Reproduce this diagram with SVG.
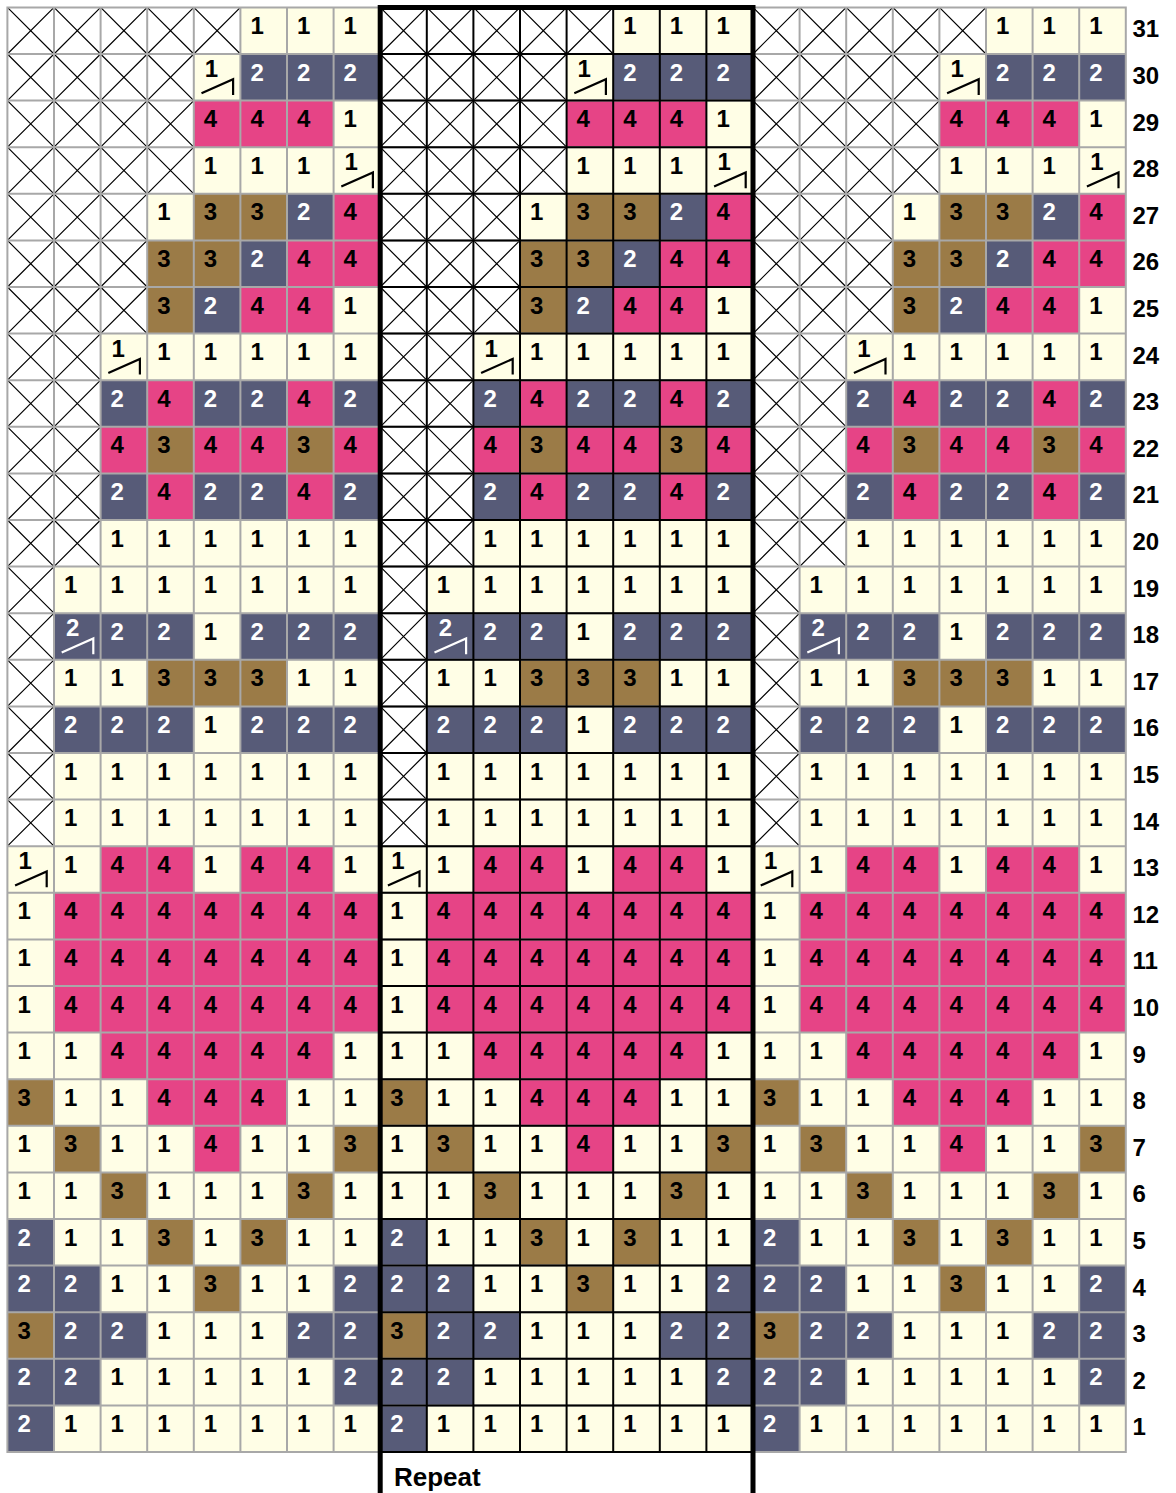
<svg xmlns="http://www.w3.org/2000/svg" width="1176" height="1493" viewBox="0 0 1176 1493">
<style>
.lbl{font-family:"Liberation Sans",Arial,sans-serif;font-weight:bold;font-size:24px;fill:#000}
.d{font-family:"Liberation Sans",Arial,sans-serif;font-weight:bold;font-size:24px;fill:#000}
.w{fill:#FFFFFF}
</style>
<defs>
<rect id="c1" fill="#FFFEE6" width="46.6" height="46.6"/>
<rect id="c2" fill="#575B78" width="46.6" height="46.6"/>
<rect id="c3" fill="#9B7B47" width="46.6" height="46.6"/>
<rect id="c4" fill="#E64486" width="46.6" height="46.6"/>
<g id="cx"><rect fill="#FFFFFF" width="46.6" height="46.6"/><path fill="none" stroke="#000" stroke-width="1.2" d="M0 0L46.6 46.6M46.6 0L0 46.6"/></g>
<g id="ca"><rect fill="#FFFEE6" width="46.6" height="46.6"/><path fill="none" stroke="#000" stroke-width="2.2" d="M7.7 39.3L39.3 25.3V41"/></g>
<g id="cb"><rect fill="#575B78" width="46.6" height="46.6"/><path fill="none" stroke="#FFFFFF" stroke-width="2.2" d="M7.7 39.3L39.3 25.3V41"/></g>
<g id="block">
<g transform="translate(0,0)"><use href="#cx"/><use href="#cx" x="46.6"/><use href="#cx" x="93.2"/><use href="#cx" x="139.8"/><use href="#cx" x="186.4"/><use href="#c1" x="233"/><use href="#c1" x="279.6"/><use href="#c1" x="326.2"/></g>
<g transform="translate(0,46.6)"><use href="#cx"/><use href="#cx" x="46.6"/><use href="#cx" x="93.2"/><use href="#cx" x="139.8"/><use href="#ca" x="186.4"/><use href="#c2" x="233"/><use href="#c2" x="279.6"/><use href="#c2" x="326.2"/></g>
<g transform="translate(0,93.2)"><use href="#cx"/><use href="#cx" x="46.6"/><use href="#cx" x="93.2"/><use href="#cx" x="139.8"/><use href="#c4" x="186.4"/><use href="#c4" x="233"/><use href="#c4" x="279.6"/><use href="#c1" x="326.2"/></g>
<g transform="translate(0,139.8)"><use href="#cx"/><use href="#cx" x="46.6"/><use href="#cx" x="93.2"/><use href="#cx" x="139.8"/><use href="#c1" x="186.4"/><use href="#c1" x="233"/><use href="#c1" x="279.6"/><use href="#ca" x="326.2"/></g>
<g transform="translate(0,186.4)"><use href="#cx"/><use href="#cx" x="46.6"/><use href="#cx" x="93.2"/><use href="#c1" x="139.8"/><use href="#c3" x="186.4"/><use href="#c3" x="233"/><use href="#c2" x="279.6"/><use href="#c4" x="326.2"/></g>
<g transform="translate(0,233)"><use href="#cx"/><use href="#cx" x="46.6"/><use href="#cx" x="93.2"/><use href="#c3" x="139.8"/><use href="#c3" x="186.4"/><use href="#c2" x="233"/><use href="#c4" x="279.6"/><use href="#c4" x="326.2"/></g>
<g transform="translate(0,279.6)"><use href="#cx"/><use href="#cx" x="46.6"/><use href="#cx" x="93.2"/><use href="#c3" x="139.8"/><use href="#c2" x="186.4"/><use href="#c4" x="233"/><use href="#c4" x="279.6"/><use href="#c1" x="326.2"/></g>
<g transform="translate(0,326.2)"><use href="#cx"/><use href="#cx" x="46.6"/><use href="#ca" x="93.2"/><use href="#c1" x="139.8"/><use href="#c1" x="186.4"/><use href="#c1" x="233"/><use href="#c1" x="279.6"/><use href="#c1" x="326.2"/></g>
<g transform="translate(0,372.8)"><use href="#cx"/><use href="#cx" x="46.6"/><use href="#c2" x="93.2"/><use href="#c4" x="139.8"/><use href="#c2" x="186.4"/><use href="#c2" x="233"/><use href="#c4" x="279.6"/><use href="#c2" x="326.2"/></g>
<g transform="translate(0,419.4)"><use href="#cx"/><use href="#cx" x="46.6"/><use href="#c4" x="93.2"/><use href="#c3" x="139.8"/><use href="#c4" x="186.4"/><use href="#c4" x="233"/><use href="#c3" x="279.6"/><use href="#c4" x="326.2"/></g>
<g transform="translate(0,466)"><use href="#cx"/><use href="#cx" x="46.6"/><use href="#c2" x="93.2"/><use href="#c4" x="139.8"/><use href="#c2" x="186.4"/><use href="#c2" x="233"/><use href="#c4" x="279.6"/><use href="#c2" x="326.2"/></g>
<g transform="translate(0,512.6)"><use href="#cx"/><use href="#cx" x="46.6"/><use href="#c1" x="93.2"/><use href="#c1" x="139.8"/><use href="#c1" x="186.4"/><use href="#c1" x="233"/><use href="#c1" x="279.6"/><use href="#c1" x="326.2"/></g>
<g transform="translate(0,559.2)"><use href="#cx"/><use href="#c1" x="46.6"/><use href="#c1" x="93.2"/><use href="#c1" x="139.8"/><use href="#c1" x="186.4"/><use href="#c1" x="233"/><use href="#c1" x="279.6"/><use href="#c1" x="326.2"/></g>
<g transform="translate(0,605.8)"><use href="#cx"/><use href="#cb" x="46.6"/><use href="#c2" x="93.2"/><use href="#c2" x="139.8"/><use href="#c1" x="186.4"/><use href="#c2" x="233"/><use href="#c2" x="279.6"/><use href="#c2" x="326.2"/></g>
<g transform="translate(0,652.4)"><use href="#cx"/><use href="#c1" x="46.6"/><use href="#c1" x="93.2"/><use href="#c3" x="139.8"/><use href="#c3" x="186.4"/><use href="#c3" x="233"/><use href="#c1" x="279.6"/><use href="#c1" x="326.2"/></g>
<g transform="translate(0,699)"><use href="#cx"/><use href="#c2" x="46.6"/><use href="#c2" x="93.2"/><use href="#c2" x="139.8"/><use href="#c1" x="186.4"/><use href="#c2" x="233"/><use href="#c2" x="279.6"/><use href="#c2" x="326.2"/></g>
<g transform="translate(0,745.6)"><use href="#cx"/><use href="#c1" x="46.6"/><use href="#c1" x="93.2"/><use href="#c1" x="139.8"/><use href="#c1" x="186.4"/><use href="#c1" x="233"/><use href="#c1" x="279.6"/><use href="#c1" x="326.2"/></g>
<g transform="translate(0,792.2)"><use href="#cx"/><use href="#c1" x="46.6"/><use href="#c1" x="93.2"/><use href="#c1" x="139.8"/><use href="#c1" x="186.4"/><use href="#c1" x="233"/><use href="#c1" x="279.6"/><use href="#c1" x="326.2"/></g>
<g transform="translate(0,838.8)"><use href="#ca"/><use href="#c1" x="46.6"/><use href="#c4" x="93.2"/><use href="#c4" x="139.8"/><use href="#c1" x="186.4"/><use href="#c4" x="233"/><use href="#c4" x="279.6"/><use href="#c1" x="326.2"/></g>
<g transform="translate(0,885.4)"><use href="#c1"/><use href="#c4" x="46.6"/><use href="#c4" x="93.2"/><use href="#c4" x="139.8"/><use href="#c4" x="186.4"/><use href="#c4" x="233"/><use href="#c4" x="279.6"/><use href="#c4" x="326.2"/></g>
<g transform="translate(0,932)"><use href="#c1"/><use href="#c4" x="46.6"/><use href="#c4" x="93.2"/><use href="#c4" x="139.8"/><use href="#c4" x="186.4"/><use href="#c4" x="233"/><use href="#c4" x="279.6"/><use href="#c4" x="326.2"/></g>
<g transform="translate(0,978.6)"><use href="#c1"/><use href="#c4" x="46.6"/><use href="#c4" x="93.2"/><use href="#c4" x="139.8"/><use href="#c4" x="186.4"/><use href="#c4" x="233"/><use href="#c4" x="279.6"/><use href="#c4" x="326.2"/></g>
<g transform="translate(0,1025.2)"><use href="#c1"/><use href="#c1" x="46.6"/><use href="#c4" x="93.2"/><use href="#c4" x="139.8"/><use href="#c4" x="186.4"/><use href="#c4" x="233"/><use href="#c4" x="279.6"/><use href="#c1" x="326.2"/></g>
<g transform="translate(0,1071.8)"><use href="#c3"/><use href="#c1" x="46.6"/><use href="#c1" x="93.2"/><use href="#c4" x="139.8"/><use href="#c4" x="186.4"/><use href="#c4" x="233"/><use href="#c1" x="279.6"/><use href="#c1" x="326.2"/></g>
<g transform="translate(0,1118.4)"><use href="#c1"/><use href="#c3" x="46.6"/><use href="#c1" x="93.2"/><use href="#c1" x="139.8"/><use href="#c4" x="186.4"/><use href="#c1" x="233"/><use href="#c1" x="279.6"/><use href="#c3" x="326.2"/></g>
<g transform="translate(0,1165)"><use href="#c1"/><use href="#c1" x="46.6"/><use href="#c3" x="93.2"/><use href="#c1" x="139.8"/><use href="#c1" x="186.4"/><use href="#c1" x="233"/><use href="#c3" x="279.6"/><use href="#c1" x="326.2"/></g>
<g transform="translate(0,1211.6)"><use href="#c2"/><use href="#c1" x="46.6"/><use href="#c1" x="93.2"/><use href="#c3" x="139.8"/><use href="#c1" x="186.4"/><use href="#c3" x="233"/><use href="#c1" x="279.6"/><use href="#c1" x="326.2"/></g>
<g transform="translate(0,1258.2)"><use href="#c2"/><use href="#c2" x="46.6"/><use href="#c1" x="93.2"/><use href="#c1" x="139.8"/><use href="#c3" x="186.4"/><use href="#c1" x="233"/><use href="#c1" x="279.6"/><use href="#c2" x="326.2"/></g>
<g transform="translate(0,1304.8)"><use href="#c3"/><use href="#c2" x="46.6"/><use href="#c2" x="93.2"/><use href="#c1" x="139.8"/><use href="#c1" x="186.4"/><use href="#c1" x="233"/><use href="#c2" x="279.6"/><use href="#c2" x="326.2"/></g>
<g transform="translate(0,1351.4)"><use href="#c2"/><use href="#c2" x="46.6"/><use href="#c1" x="93.2"/><use href="#c1" x="139.8"/><use href="#c1" x="186.4"/><use href="#c1" x="233"/><use href="#c1" x="279.6"/><use href="#c2" x="326.2"/></g>
<g transform="translate(0,1398)"><use href="#c2"/><use href="#c1" x="46.6"/><use href="#c1" x="93.2"/><use href="#c1" x="139.8"/><use href="#c1" x="186.4"/><use href="#c1" x="233"/><use href="#c1" x="279.6"/><use href="#c1" x="326.2"/></g>
</g>
</defs>
<g id="chart">
<use id="left-block" href="#block" x="7.4" y="7.4"/>
<use id="repeat-block" href="#block" x="380.2" y="7.4"/>
<use id="right-block" href="#block" x="753" y="7.4"/>
</g>
<g id="cell-numbers">
<text class="d" y="33.9" x="250.4 297 343.6 623.2 669.8 716.4 996 1042.6 1089.2">111111111</text>
<text class="d" x="204.8 250.4 297 343.6 577.6 623.2 669.8 716.4 950.4 996 1042.6 1089.2" y="77 80.5 80.5 80.5 77 80.5 80.5 80.5 77 80.5 80.5 80.5">1<tspan class="w">222</tspan>1<tspan class="w">222</tspan>1<tspan class="w">222</tspan></text>
<text class="d" y="127.1" x="203.8 250.4 297 343.6 576.6 623.2 669.8 716.4 949.4 996 1042.6 1089.2">444144414441</text>
<text class="d" x="203.8 250.4 297 344.6 576.6 623.2 669.8 717.4 949.4 996 1042.6 1090.2" y="173.7 173.7 173.7 170.2 173.7 173.7 173.7 170.2 173.7 173.7 173.7 170.2">111111111111</text>
<text class="d" y="220.3" x="157.2 203.8 250.4 297 343.6 530 576.6 623.2 669.8 716.4 902.8 949.4 996 1042.6 1089.2">133<tspan class="w">2</tspan>4133<tspan class="w">2</tspan>4133<tspan class="w">2</tspan>4</text>
<text class="d" y="266.9" x="157.2 203.8 250.4 297 343.6 530 576.6 623.2 669.8 716.4 902.8 949.4 996 1042.6 1089.2">33<tspan class="w">2</tspan>4433<tspan class="w">2</tspan>4433<tspan class="w">2</tspan>44</text>
<text class="d" y="313.5" x="157.2 203.8 250.4 297 343.6 530 576.6 623.2 669.8 716.4 902.8 949.4 996 1042.6 1089.2">3<tspan class="w">2</tspan>4413<tspan class="w">2</tspan>4413<tspan class="w">2</tspan>441</text>
<text class="d" x="111.6 157.2 203.8 250.4 297 343.6 484.4 530 576.6 623.2 669.8 716.4 857.2 902.8 949.4 996 1042.6 1089.2" y="356.6 360.1 360.1 360.1 360.1 360.1 356.6 360.1 360.1 360.1 360.1 360.1 356.6 360.1 360.1 360.1 360.1 360.1">111111111111111111</text>
<text class="d" y="406.7" x="110.6 157.2 203.8 250.4 297 343.6 483.4 530 576.6 623.2 669.8 716.4 856.2 902.8 949.4 996 1042.6 1089.2"><tspan class="w">2</tspan>4<tspan class="w">22</tspan>4<tspan class="w">22</tspan>4<tspan class="w">22</tspan>4<tspan class="w">22</tspan>4<tspan class="w">22</tspan>4<tspan class="w">2</tspan></text>
<text class="d" y="453.3" x="110.6 157.2 203.8 250.4 297 343.6 483.4 530 576.6 623.2 669.8 716.4 856.2 902.8 949.4 996 1042.6 1089.2">434434434434434434</text>
<text class="d" y="499.9" x="110.6 157.2 203.8 250.4 297 343.6 483.4 530 576.6 623.2 669.8 716.4 856.2 902.8 949.4 996 1042.6 1089.2"><tspan class="w">2</tspan>4<tspan class="w">22</tspan>4<tspan class="w">22</tspan>4<tspan class="w">22</tspan>4<tspan class="w">22</tspan>4<tspan class="w">22</tspan>4<tspan class="w">2</tspan></text>
<text class="d" y="546.5" x="110.6 157.2 203.8 250.4 297 343.6 483.4 530 576.6 623.2 669.8 716.4 856.2 902.8 949.4 996 1042.6 1089.2">111111111111111111</text>
<text class="d" y="593.1" x="64 110.6 157.2 203.8 250.4 297 343.6 436.8 483.4 530 576.6 623.2 669.8 716.4 809.6 856.2 902.8 949.4 996 1042.6 1089.2">111111111111111111111</text>
<text class="d" x="66 110.6 157.2 203.8 250.4 297 343.6 438.8 483.4 530 576.6 623.2 669.8 716.4 811.6 856.2 902.8 949.4 996 1042.6 1089.2" y="636.2 639.7 639.7 639.7 639.7 639.7 639.7 636.2 639.7 639.7 639.7 639.7 639.7 639.7 636.2 639.7 639.7 639.7 639.7 639.7 639.7"><tspan class="w">222</tspan>1<tspan class="w">222222</tspan>1<tspan class="w">222222</tspan>1<tspan class="w">222</tspan></text>
<text class="d" y="686.3" x="64 110.6 157.2 203.8 250.4 297 343.6 436.8 483.4 530 576.6 623.2 669.8 716.4 809.6 856.2 902.8 949.4 996 1042.6 1089.2">113331111333111133311</text>
<text class="d" y="732.9" x="64 110.6 157.2 203.8 250.4 297 343.6 436.8 483.4 530 576.6 623.2 669.8 716.4 809.6 856.2 902.8 949.4 996 1042.6 1089.2"><tspan class="w">222</tspan>1<tspan class="w">222222</tspan>1<tspan class="w">222222</tspan>1<tspan class="w">222</tspan></text>
<text class="d" y="779.5" x="64 110.6 157.2 203.8 250.4 297 343.6 436.8 483.4 530 576.6 623.2 669.8 716.4 809.6 856.2 902.8 949.4 996 1042.6 1089.2">111111111111111111111</text>
<text class="d" y="826.1" x="64 110.6 157.2 203.8 250.4 297 343.6 436.8 483.4 530 576.6 623.2 669.8 716.4 809.6 856.2 902.8 949.4 996 1042.6 1089.2">111111111111111111111</text>
<text class="d" x="18.4 64 110.6 157.2 203.8 250.4 297 343.6 391.2 436.8 483.4 530 576.6 623.2 669.8 716.4 764 809.6 856.2 902.8 949.4 996 1042.6 1089.2" y="869.2 872.7 872.7 872.7 872.7 872.7 872.7 872.7 869.2 872.7 872.7 872.7 872.7 872.7 872.7 872.7 869.2 872.7 872.7 872.7 872.7 872.7 872.7 872.7">114414411144144111441441</text>
<text class="d" y="919.3" x="17.4 64 110.6 157.2 203.8 250.4 297 343.6 390.2 436.8 483.4 530 576.6 623.2 669.8 716.4 763 809.6 856.2 902.8 949.4 996 1042.6 1089.2">144444441444444414444444</text>
<text class="d" y="965.9" x="17.4 64 110.6 157.2 203.8 250.4 297 343.6 390.2 436.8 483.4 530 576.6 623.2 669.8 716.4 763 809.6 856.2 902.8 949.4 996 1042.6 1089.2">144444441444444414444444</text>
<text class="d" y="1012.5" x="17.4 64 110.6 157.2 203.8 250.4 297 343.6 390.2 436.8 483.4 530 576.6 623.2 669.8 716.4 763 809.6 856.2 902.8 949.4 996 1042.6 1089.2">144444441444444414444444</text>
<text class="d" y="1059.1" x="17.4 64 110.6 157.2 203.8 250.4 297 343.6 390.2 436.8 483.4 530 576.6 623.2 669.8 716.4 763 809.6 856.2 902.8 949.4 996 1042.6 1089.2">114444411144444111444441</text>
<text class="d" y="1105.7" x="17.4 64 110.6 157.2 203.8 250.4 297 343.6 390.2 436.8 483.4 530 576.6 623.2 669.8 716.4 763 809.6 856.2 902.8 949.4 996 1042.6 1089.2">311444113114441131144411</text>
<text class="d" y="1152.3" x="17.4 64 110.6 157.2 203.8 250.4 297 343.6 390.2 436.8 483.4 530 576.6 623.2 669.8 716.4 763 809.6 856.2 902.8 949.4 996 1042.6 1089.2">131141131311411313114113</text>
<text class="d" y="1198.9" x="17.4 64 110.6 157.2 203.8 250.4 297 343.6 390.2 436.8 483.4 530 576.6 623.2 669.8 716.4 763 809.6 856.2 902.8 949.4 996 1042.6 1089.2">113111311131113111311131</text>
<text class="d" y="1245.5" x="17.4 64 110.6 157.2 203.8 250.4 297 343.6 390.2 436.8 483.4 530 576.6 623.2 669.8 716.4 763 809.6 856.2 902.8 949.4 996 1042.6 1089.2"><tspan class="w">2</tspan>1131311<tspan class="w">2</tspan>1131311<tspan class="w">2</tspan>1131311</text>
<text class="d" y="1292.1" x="17.4 64 110.6 157.2 203.8 250.4 297 343.6 390.2 436.8 483.4 530 576.6 623.2 669.8 716.4 763 809.6 856.2 902.8 949.4 996 1042.6 1089.2"><tspan class="w">22</tspan>11311<tspan class="w">222</tspan>11311<tspan class="w">222</tspan>11311<tspan class="w">2</tspan></text>
<text class="d" y="1338.7" x="17.4 64 110.6 157.2 203.8 250.4 297 343.6 390.2 436.8 483.4 530 576.6 623.2 669.8 716.4 763 809.6 856.2 902.8 949.4 996 1042.6 1089.2">3<tspan class="w">22</tspan>111<tspan class="w">22</tspan>3<tspan class="w">22</tspan>111<tspan class="w">22</tspan>3<tspan class="w">22</tspan>111<tspan class="w">22</tspan></text>
<text class="d" y="1385.3" x="17.4 64 110.6 157.2 203.8 250.4 297 343.6 390.2 436.8 483.4 530 576.6 623.2 669.8 716.4 763 809.6 856.2 902.8 949.4 996 1042.6 1089.2"><tspan class="w">22</tspan>11111<tspan class="w">222</tspan>11111<tspan class="w">222</tspan>11111<tspan class="w">2</tspan></text>
<text class="d" y="1431.9" x="17.4 64 110.6 157.2 203.8 250.4 297 343.6 390.2 436.8 483.4 530 576.6 623.2 669.8 716.4 763 809.6 856.2 902.8 949.4 996 1042.6 1089.2"><tspan class="w">2</tspan>1111111<tspan class="w">2</tspan>1111111<tspan class="w">2</tspan>1111111</text>
</g>
<g id="grid" fill="none" stroke-linecap="square">
<path stroke="#A8A8A8" stroke-width="2" d="M7.4 7.4V1452M54 7.4V1452M100.6 7.4V1452M147.2 7.4V1452M193.8 7.4V1452M240.4 7.4V1452M287 7.4V1452M333.6 7.4V1452M799.6 7.4V1452M846.2 7.4V1452M892.8 7.4V1452M939.4 7.4V1452M986 7.4V1452M1032.6 7.4V1452M1079.2 7.4V1452M1125.8 7.4V1452M7.4 7.4H1125.8M7.4 54H1125.8M7.4 100.6H1125.8M7.4 147.2H1125.8M7.4 193.8H1125.8M7.4 240.4H1125.8M7.4 287H1125.8M7.4 333.6H1125.8M7.4 380.2H1125.8M7.4 426.8H1125.8M7.4 473.4H1125.8M7.4 520H1125.8M7.4 566.6H1125.8M7.4 613.2H1125.8M7.4 659.8H1125.8M7.4 706.4H1125.8M7.4 753H1125.8M7.4 799.6H1125.8M7.4 846.2H1125.8M7.4 892.8H1125.8M7.4 939.4H1125.8M7.4 986H1125.8M7.4 1032.6H1125.8M7.4 1079.2H1125.8M7.4 1125.8H1125.8M7.4 1172.4H1125.8M7.4 1219H1125.8M7.4 1265.6H1125.8M7.4 1312.2H1125.8M7.4 1358.8H1125.8M7.4 1405.4H1125.8M7.4 1452H1125.8"/>
<path stroke="#000" stroke-width="2" d="M426.8 7.4V1452M473.4 7.4V1452M520 7.4V1452M566.6 7.4V1452M613.2 7.4V1452M659.8 7.4V1452M706.4 7.4V1452M380.2 54H753M380.2 100.6H753M380.2 147.2H753M380.2 193.8H753M380.2 240.4H753M380.2 287H753M380.2 333.6H753M380.2 380.2H753M380.2 426.8H753M380.2 473.4H753M380.2 520H753M380.2 566.6H753M380.2 613.2H753M380.2 659.8H753M380.2 706.4H753M380.2 753H753M380.2 799.6H753M380.2 846.2H753M380.2 892.8H753M380.2 939.4H753M380.2 986H753M380.2 1032.6H753M380.2 1079.2H753M380.2 1125.8H753M380.2 1172.4H753M380.2 1219H753M380.2 1265.6H753M380.2 1312.2H753M380.2 1358.8H753M380.2 1405.4H753M380.2 1452H753"/>
</g>
<g id="repeat">
<path d="M380.2 1493V7.4H753V1493" fill="none" stroke="#000" stroke-width="5" stroke-linecap="butt" stroke-linejoin="miter"/>
<text class="lbl" x="394" y="1486" style="font-size:26px">Repeat</text>
</g>
<g id="row-labels">
<text class="lbl" x="1132.5" y="37.4">31</text>
<text class="lbl" x="1132.5" y="84">30</text>
<text class="lbl" x="1132.5" y="130.6">29</text>
<text class="lbl" x="1132.5" y="177.2">28</text>
<text class="lbl" x="1132.5" y="223.8">27</text>
<text class="lbl" x="1132.5" y="270.4">26</text>
<text class="lbl" x="1132.5" y="317">25</text>
<text class="lbl" x="1132.5" y="363.6">24</text>
<text class="lbl" x="1132.5" y="410.2">23</text>
<text class="lbl" x="1132.5" y="456.8">22</text>
<text class="lbl" x="1132.5" y="503.4">21</text>
<text class="lbl" x="1132.5" y="550">20</text>
<text class="lbl" x="1132.5" y="596.6">19</text>
<text class="lbl" x="1132.5" y="643.2">18</text>
<text class="lbl" x="1132.5" y="689.8">17</text>
<text class="lbl" x="1132.5" y="736.4">16</text>
<text class="lbl" x="1132.5" y="783">15</text>
<text class="lbl" x="1132.5" y="829.6">14</text>
<text class="lbl" x="1132.5" y="876.2">13</text>
<text class="lbl" x="1132.5" y="922.8">12</text>
<text class="lbl" x="1132.5" y="969.4">11</text>
<text class="lbl" x="1132.5" y="1016">10</text>
<text class="lbl" x="1132.5" y="1062.6">9</text>
<text class="lbl" x="1132.5" y="1109.2">8</text>
<text class="lbl" x="1132.5" y="1155.8">7</text>
<text class="lbl" x="1132.5" y="1202.4">6</text>
<text class="lbl" x="1132.5" y="1249">5</text>
<text class="lbl" x="1132.5" y="1295.6">4</text>
<text class="lbl" x="1132.5" y="1342.2">3</text>
<text class="lbl" x="1132.5" y="1388.8">2</text>
<text class="lbl" x="1132.5" y="1435.4">1</text>
</g>
</svg>
